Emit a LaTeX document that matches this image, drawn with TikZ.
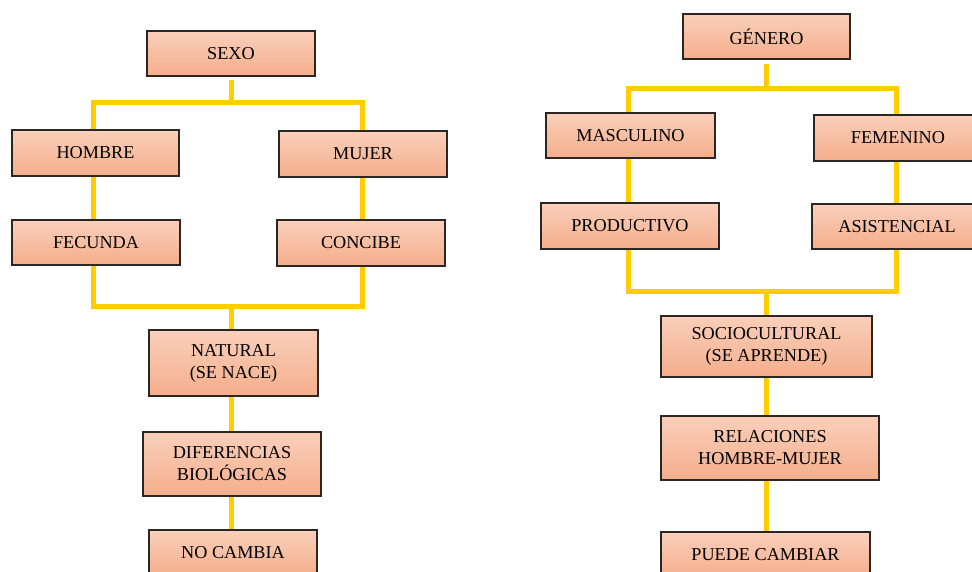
\documentclass[tikz,border=0pt]{standalone}
\usepackage{fontspec}
\setmainfont{Liberation Serif}
\definecolor{boxtop}{HTML}{FACFBA}
\definecolor{boxbot}{HTML}{F4AE8C}
\definecolor{boxedge}{HTML}{2B2622}
\definecolor{conn}{HTML}{FFCC00}
\tikzset{
  box/.style={draw=boxedge, line width=1.4pt, top color=boxtop, bottom color=boxbot,
    inner sep=0pt, align=center, font=\fontsize{18.2}{22}\selectfont},
  link/.style={draw=conn, line width=5pt, line cap=butt, line join=miter}
}
\begin{document}
\begin{tikzpicture}[x=1pt,y=-1pt]
\useasboundingbox (0,0) rectangle (972,571);
\clip (0,0) rectangle (972,571);
% ---------- left: SEXO ----------
\node[box, minimum width=168, minimum height=45] (sexo) at (231,53.5) {SEXO};
\node[box, minimum width=167, minimum height=46] (hombre) at (95.5,153) {HOMBRE};
\node[box, minimum width=168, minimum height=46] (mujer) at (363,154) {MUJER};
\node[box, minimum width=168, minimum height=45] (fecunda) at (96,242.5) {FECUNDA};
\node[box, minimum width=168, minimum height=46] (concibe) at (361,243) {CONCIBE};
\node[box, minimum width=169, minimum height=66] (natural) at (233.5,363) {NATURAL\\(SE NACE)};
\node[box, minimum width=178, minimum height=64] (dif) at (232,464) {DIFERENCIAS\\BIOLÓGICAS};
\node[box, minimum width=168, minimum height=46] (nocambia) at (233,553) {NO CAMBIA};
\coordinate (ltl) at (93,102);
\coordinate (ltr) at (362,102);
\coordinate (ltm) at (231,102);
\coordinate (lbl) at (93,306);
\coordinate (lbr) at (362,306);
\coordinate (lbm) at (231,306);
\coordinate (lstub) at (231,80);
\draw[link] (lstub) -- (ltm);
\draw[link] (hombre.north -| ltl) -- (ltl) -- (ltr) -- (mujer.north -| ltr);
\draw[link] (hombre.south -| ltl) -- (fecunda.north -| ltl);
\draw[link] (mujer.south -| ltr) -- (concibe.north -| ltr);
\draw[link] (fecunda.south -| lbl) -- (lbl) -- (lbr) -- (concibe.south -| lbr);
\draw[link] (lbm) -- (natural.north -| lbm);
\draw[link] (natural.south -| lbm) -- (dif.north -| lbm);
\draw[link] (dif.south -| lbm) -- (nocambia.north -| lbm);
% ---------- right: GÉNERO ----------
\node[box, minimum width=167, minimum height=45] (genero) at (766.5,36.5) {GÉNERO};
\node[box, minimum width=169, minimum height=45] (masc) at (630.5,135.5) {MASCULINO};
\node[box, minimum width=168, minimum height=46] (fem) at (898,138) {FEMENINO};
\node[box, minimum width=178, minimum height=46] (prod) at (630,226) {PRODUCTIVO};
\node[box, minimum width=170, minimum height=45] (asis) at (897,226.5) {ASISTENCIAL};
\node[box, minimum width=211, minimum height=61] (socio) at (766.5,346.5) {SOCIOCULTURAL\\(SE APRENDE)};
\node[box, minimum width=218, minimum height=64] (rel) at (770,448) {RELACIONES\\HOMBRE-MUJER};
\node[box, minimum width=209, minimum height=46] (puede) at (765.5,555) {PUEDE CAMBIAR};
\coordinate (rtl) at (628,88);
\coordinate (rtr) at (896,88);
\coordinate (rtm) at (766,88);
\coordinate (rbl) at (628,291);
\coordinate (rbr) at (896,291);
\coordinate (rbm) at (766,291);
\coordinate (rstub) at (766,64);
\draw[link] (rstub) -- (rtm);
\draw[link] (masc.north -| rtl) -- (rtl) -- (rtr) -- (fem.north -| rtr);
\draw[link] (masc.south -| rtl) -- (prod.north -| rtl);
\draw[link] (fem.south -| rtr) -- (asis.north -| rtr);
\draw[link] (prod.south -| rbl) -- (rbl) -- (rbr) -- (asis.south -| rbr);
\draw[link] (rbm) -- (socio.north -| rbm);
\draw[link] (socio.south -| rbm) -- (rel.north -| rbm);
\draw[link] (rel.south -| rbm) -- (puede.north -| rbm);
\end{tikzpicture}
\end{document}
